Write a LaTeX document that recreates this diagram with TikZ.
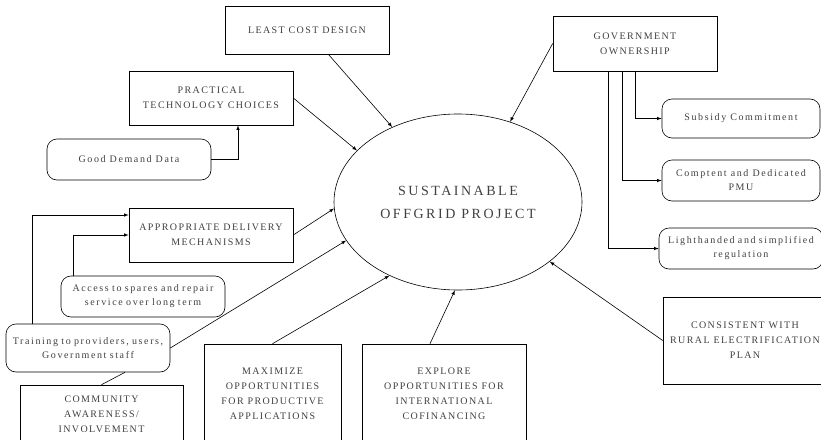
\documentclass[tikz,border=0pt]{standalone}
\usepackage{fontspec}
\usetikzlibrary{arrows}
\usetikzlibrary{shapes.geometric}

\newfontfamily\capsfont[LetterSpace=14]{Liberation Serif}
\newfontfamily\lowfont[LetterSpace=16]{Liberation Serif}
\newfontfamily\bigfont[LetterSpace=18]{Liberation Serif}

\begin{document}
\begin{tikzpicture}[x=1pt, y=-1pt, >=latex, semithick,
  box/.style={draw, minimum width=164pt, align=center, inner sep=2pt,
    text=black!75, font=\capsfont\fontsize{10}{15}\selectfont},
  roundbox/.style={box, rounded corners=10pt, font=\lowfont\fontsize{10}{14}\selectfont}]
\useasboundingbox (0,0) rectangle (821,439);

% centre of the diagram
\node (project) at (458,202) [draw, ellipse, minimum width=248pt, minimum height=176pt,
  inner sep=0pt, align=center, text=black!75,
  font=\bigfont\fontsize{14}{23}\selectfont] {SUSTAINABLE\\OFFGRID PROJECT};

% left and upper side
\node (least) at (307,30) [box, minimum height=48pt] {LEAST COST DESIGN};
\node (practical) at (211,98) [box, minimum height=54pt] {PRACTICAL\\TECHNOLOGY CHOICES};
\node (demand) at (129,159.5) [roundbox, minimum height=41pt] {Good Demand Data};
\node (delivery) at (211,235) [box, minimum height=54pt] {APPROPRIATE DELIVERY\\MECHANISMS};
\node (spares) at (143,296.5) [roundbox, minimum height=41pt, text width=154pt, inner sep=5pt] {Access to spares and repair\\service over long term};
\node (training) at (88,348) [roundbox, minimum height=48pt, text width=154pt, inner sep=5pt] {Training to providers, users,\\Government staff};

% bottom row, cut by the page edge
\node (community) at (101.5,414) [box, minimum width=163pt, minimum height=58pt] {COMMUNITY\\AWARENESS/\\INVOLVEMENT};
\node (maximize) at (272.5,394) [box, minimum width=137pt, minimum height=100pt] {MAXIMIZE\\OPPORTUNITIES\\FOR PRODUCTIVE\\APPLICATIONS};
\node (explore) at (444,394) [box, minimum height=100pt] {EXPLORE\\OPPORTUNITIES FOR\\INTERNATIONAL\\COFINANCING};

% right side
\node (govt) at (635,43.5) [box, minimum height=55pt] {GOVERNMENT\\OWNERSHIP};
\node (subsidy) at (741,118.5) [roundbox, minimum width=158pt, minimum height=39pt] {Subsidy Commitment};
\node (pmu) at (741,180.5) [roundbox, minimum width=158pt, minimum height=41pt] {Comptent and Dedicated\\PMU};
\node (regul) at (741,248.5) [roundbox, minimum height=41pt, text width=148pt, inner sep=5pt] {Lighthanded and simplified\\regulation};
\node (consistent) at (745,340.5) [box, minimum height=87pt] {CONSISTENT WITH\\RURAL ELECTRIFICATION\\PLAN};

% into the project
\draw[->] (least) -- (project);
\draw[->] (practical.east) -- (project.153);
\draw[->] (delivery.east) -- (project.183);
\draw[->] (training.east) -- (project.199);
\draw[->] (maximize.north) -- (project.227);
\draw[->] ([xshift=-14pt]explore.north) -- (project.268);
\draw[->] (consistent.west) -- (project.327);
\draw[->] (govt.west) -- (project.57);

% feeders
\draw[->] (demand.east) -| ([xshift=27pt]practical.south);
\draw[->] ([xshift=27pt]training.north west) |- ([yshift=20pt]delivery.west);
\draw[->] ([xshift=13pt]spares.north west) |- (delivery.west);
\draw (community.north) -- ([xshift=37pt]training.south);

% government branches
\draw[->] (govt.south) |- (subsidy.west);
\draw[->] ([xshift=-13pt]govt.south) |- (pmu.west);
\draw[->] ([xshift=-27pt]govt.south) |- (regul.west);

\end{tikzpicture}
\end{document}
